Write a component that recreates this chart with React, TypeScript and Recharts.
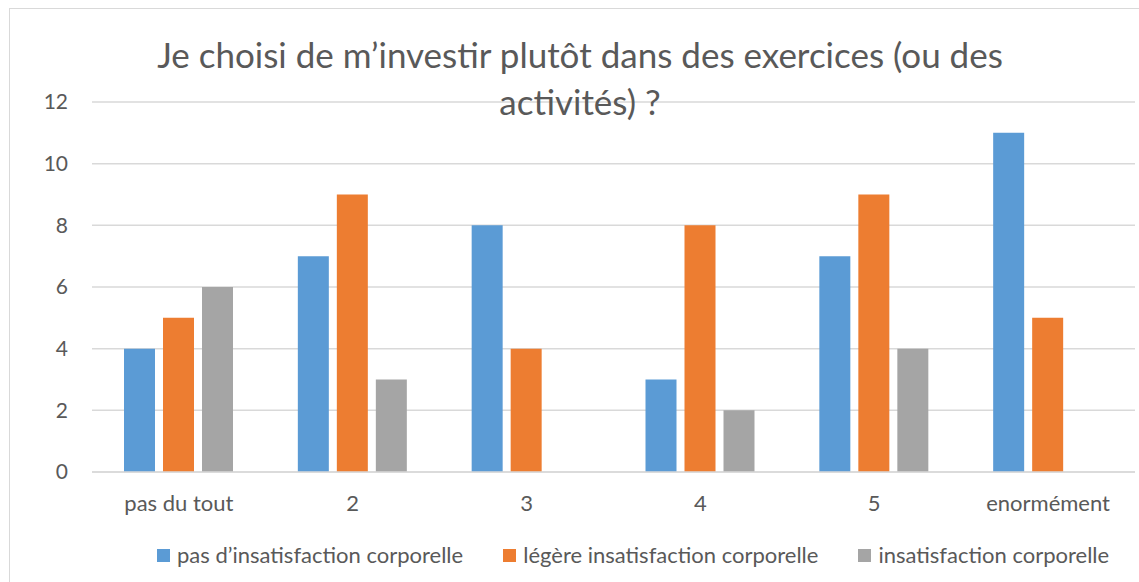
import { BarChart, Bar, XAxis, YAxis, CartesianGrid, Legend } from "recharts";

const categories = ["pas du tout", "2", "3", "4", "5", "enormément"];
const pasInsatisfaction = [4, 7, 8, 3, 7, 11];
const legereInsatisfaction = [5, 9, 4, 8, 9, 5];
const insatisfaction = [6, 3, 0, 2, 4, 0];
const yTicks = [0, 2, 4, 6, 8, 10, 12];

const SERIES = [
  { key: "pas d’insatisfaction corporelle", color: "#5B9BD5" },
  { key: "légère insatisfaction corporelle", color: "#ED7D31" },
  { key: "insatisfaction corporelle", color: "#A5A5A5" },
];

const chartData = categories.map((name, i) => ({
  name,
  [SERIES[0].key]: pasInsatisfaction[i],
  [SERIES[1].key]: legereInsatisfaction[i],
  [SERIES[2].key]: insatisfaction[i],
}));

const FONT = "Lato, 'Open Sans', sans-serif";
const TEXT = "#595959";

const LegendContent = () => (
  <div
    style={{
      display: "flex",
      justifyContent: "flex-start",
      paddingLeft: 147,
      fontFamily: FONT,
      fontSize: 22,
      lineHeight: "26px",
      color: TEXT,
      whiteSpace: "nowrap",
    }}
  >
    {SERIES.map((s, i) => (
      <div key={s.key} style={{ display: "flex", alignItems: "center", marginLeft: i === 0 ? 0 : 40 }}>
        <span style={{ width: 13, height: 13, background: s.color, marginRight: 7, display: "inline-block" }} />
        <span>{s.key}</span>
      </div>
    ))}
  </div>
);

const App = () => {
  return (
    <div style={{ position: "absolute", left: 0, top: 0, width: 1139, height: 582, overflow: "hidden", background: "#fff" }}>
      <style>{"body{margin:0;overflow:hidden}"}</style>
      <div
        style={{
          position: "absolute",
          left: 9,
          top: 8,
          width: 1140,
          height: 590,
          borderLeft: "1px solid #d9d9d9",
          borderTop: "1px solid #d9d9d9",
        }}
      >
        <BarChart
          width={1130}
          height={573}
          data={chartData}
          margin={{ top: 93, right: 5, left: 0, bottom: 0 }}
          barCategoryGap={32}
          barGap={8}
        >
          <CartesianGrid vertical={false} stroke="#d9d9d9" strokeWidth={1.5} />
          <XAxis
            dataKey="name"
            axisLine={{ stroke: "#d9d9d9", strokeWidth: 1.5 }}
            tickLine={false}
            tickMargin={17}
            height={70}
            tick={{ fontSize: 22, fill: TEXT, fontFamily: FONT }}
            interval={0}
          />
          <YAxis
            width={82}
            domain={[0, 12]}
            ticks={yTicks}
            axisLine={false}
            tickLine={false}
            tickMargin={18}
            tick={{ fontSize: 21, fill: TEXT, fontFamily: FONT }}
          />
          <Legend verticalAlign="bottom" height={40} content={<LegendContent />} />
          {SERIES.map((s) => (
            <Bar key={s.key} dataKey={s.key} fill={s.color} isAnimationActive={false} />
          ))}
        </BarChart>
        <div
          style={{
            position: "absolute",
            zIndex: 1,
            left: -4,
            top: 22,
            width: 1148,
            textAlign: "center",
            fontFamily: FONT,
            fontSize: 35,
            lineHeight: "47px",
            color: TEXT,
            pointerEvents: "none",
          }}
        >
          Je choisi de m’investir plutôt dans des exercices (ou des
          <br />
          activités) ?
        </div>
      </div>
    </div>
  );
};

export default App;
